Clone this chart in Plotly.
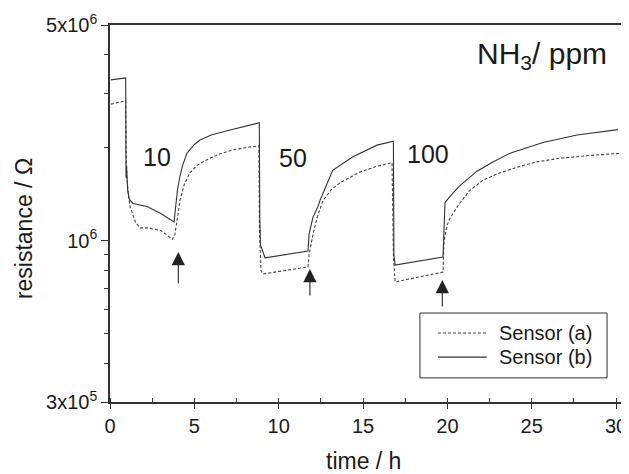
import math
import plotly.graph_objects as go

# ---- data ----
time_a = [0.05, 0.93, 0.96, 1.0, 1.1, 1.19, 1.5, 1.78, 2.2, 3.0, 3.5, 3.7, 3.85,
          3.95, 4.15, 4.4, 4.74, 5.2, 5.75, 6.5, 7.29, 8.0, 8.83,
          8.86, 8.95, 9.07, 11.74,
          11.8, 12.05, 12.3, 12.63, 13.1, 13.63, 14.82, 15.8, 16.72,
          16.8, 16.9, 19.74,
          19.8, 19.98, 20.15, 20.63, 21.3, 22.11, 23.0, 24.13, 25.3, 26.67, 28.5, 30.35]
res_a = [2.77e6, 2.84e6, 1.9e6, 1.6e6, 1.4e6, 1.29e6, 1.15e6, 1.10e6, 1.10e6, 1.08e6, 1.03e6, 1.01e6, 1.05e6,
         1.15e6, 1.35e6, 1.52e6, 1.66e6, 1.76e6, 1.83e6, 1.91e6, 1.97e6, 2.0e6, 2.03e6,
         1.1e6, 8.0e5, 7.8e5, 8.22e5,
         9.0e5, 1.06e6, 1.2e6, 1.35e6, 1.46e6, 1.54e6, 1.67e6, 1.74e6, 1.79e6,
         9.0e5, 7.35e5, 7.91e5,
         1.0e6, 1.12e6, 1.18e6, 1.3e6, 1.45e6, 1.57e6, 1.65e6, 1.73e6, 1.8e6, 1.85e6, 1.89e6, 1.92e6]

time_b = [0.05, 0.93, 0.95, 0.98, 1.05, 1.15, 1.36, 2.19, 2.96, 3.5, 3.8,
          3.9, 4.0, 4.15, 4.3, 4.56, 5.0, 5.33, 6.0, 6.94, 8.0, 8.85,
          8.88, 8.92, 9.19, 11.74,
          11.8, 12.03, 12.33, 12.45, 13.2, 14.4, 15.83, 16.72, 16.8,
          16.83, 16.9, 19.74,
          19.8, 19.86, 20.3, 20.7, 21.75, 22.7, 23.71, 25.67, 27.68, 30.11]
res_b = [3.32e6, 3.37e6, 1.6e6, 1.75e6, 1.45e6, 1.36e6, 1.32e6, 1.29e6, 1.23e6, 1.18e6, 1.15e6,
         1.3e6, 1.46e6, 1.62e6, 1.75e6, 1.92e6, 2.05e6, 2.12e6, 2.2e6, 2.27e6, 2.35e6, 2.41e6,
         1.2e6, 9.68e5, 8.8e5, 9.25e5,
         1.05e6, 1.19e6, 1.29e6, 1.35e6, 1.69e6, 1.87e6, 2.04e6, 2.09e6, 2.1e6,
         9.0e5, 8.34e5, 8.85e5,
         1.2e6, 1.33e6, 1.42e6, 1.5e6, 1.68e6, 1.8e6, 1.92e6, 2.08e6, 2.2e6, 2.29e6]

series_names = ["Sensor (a)", "Sensor (b)"]

dose_labels = ["10", "50", "100"]
dose_time = [2.8, 10.85, 18.85]
dose_res = [1.87e6, 1.85e6, 1.91e6]

arrow_time = [4.05, 11.85, 19.7]
arrow_res = [9.19e5, 8.09e5, 7.45e5]

y_tickvals = [3e5, 1e6, 5e6]
y_ticktext = ["3x10<sup>5</sup>", "10<sup>6</sup>", "5x10<sup>6</sup>"]
y_minor = [4e5, 5e5, 6e5, 7e5, 8e5, 9e5, 2e6, 3e6, 4e6]

FONT = "Liberation Sans, Arial, Helvetica, sans-serif"
INK = "#1a1a1a"
LINE = "#333333"
STYLE = [dict(color="#444444", width=1.1, dash="3px,2px"),
         dict(color="#333333", width=1.1)]

fig = go.Figure()
fig.add_trace(go.Scatter(x=time_a, y=res_a, mode="lines", name=series_names[0],
                         line=STYLE[0], showlegend=False))
fig.add_trace(go.Scatter(x=time_b, y=res_b, mode="lines", name=series_names[1],
                         line=STYLE[1], showlegend=False))

for lab, t, r in zip(dose_labels, dose_time, dose_res):
    fig.add_annotation(x=t, y=math.log10(r), text=lab, showarrow=False,
                       font=dict(family=FONT, size=25, color=INK))

for t, r, ay in zip(arrow_time, arrow_res, [33, 28, 28]):
    fig.add_annotation(x=t, y=math.log10(r), text="", showarrow=True,
                       ax=0, ay=ay, arrowhead=2, arrowsize=2.4, arrowwidth=1.1,
                       arrowcolor="#222222")

fig.add_annotation(xref="paper", yref="paper", x=0.97, y=0.92, xanchor="right",
                   yanchor="middle", showarrow=False,
                   text="NH<sub>3</sub>/ ppm",
                   font=dict(family=FONT, size=30, color=INK))

# axis titles
fig.add_annotation(xref="paper", yref="paper", x=0.493, y=-0.157, xanchor="center",
                   yanchor="middle", showarrow=False, text="time / h",
                   font=dict(family=FONT, size=23, color=INK))
fig.add_annotation(xref="paper", yref="paper", x=-0.167, y=0.459, xanchor="center",
                   yanchor="middle", showarrow=False, text="resistance / Ω",
                   textangle=-90, font=dict(family=FONT, size=23, color=INK))

# legend box drawn in plot-area (paper) coordinates
fig.add_shape(type="rect", xref="paper", yref="paper", x0=0.603, x1=0.967,
              y0=0.064, y1=0.236, line=dict(color=LINE, width=1), fillcolor="white",
              layer="above")
for i, (nm, st) in enumerate(zip(series_names, STYLE)):
    yy = 0.183 - i * 0.064
    fig.add_shape(type="line", xref="paper", yref="paper", x0=0.638, x1=0.733,
                  y0=yy, y1=yy, line=st, layer="above")
    fig.add_annotation(xref="paper", yref="paper", x=0.753, y=yy, xanchor="left",
                       yanchor="middle", showarrow=False, text=nm,
                       font=dict(family=FONT, size=20, color=INK))

# page body adds an 8px offset, so the figure is sized to end at the window edge
fig.update_layout(
    width=621, height=466,
    margin=dict(l=102, r=5, t=17, b=72, autoexpand=False),
    plot_bgcolor="white", paper_bgcolor="white",
    font=dict(family=FONT, color=INK),
    showlegend=False,
)
fig.update_xaxes(range=[0, 30.47], showline=True, linecolor=LINE, linewidth=1.5,
                 mirror=True, showgrid=False, zeroline=False, automargin=False,
                 tickmode="linear", tick0=0, dtick=5,
                 ticks="outside", ticklen=5, tickcolor=LINE,
                 tickfont=dict(family=FONT, size=20, color=INK),
                 minor=dict(dtick=2.5, ticks="inside", ticklen=4, tickcolor=LINE))
fig.update_yaxes(type="log", range=[math.log10(3e5), math.log10(5e6)],
                 showline=True, linecolor=LINE, linewidth=1.5, mirror=True,
                 showgrid=False, zeroline=False, automargin=False,
                 tickmode="array", tickvals=y_tickvals, ticktext=y_ticktext,
                 ticks="outside", ticklen=7, tickcolor=LINE,
                 tickfont=dict(family=FONT, size=20, color=INK),
                 minor=dict(tickvals=y_minor, ticks="outside", ticklen=4, tickcolor=LINE))

fig.write_html("out.html")
